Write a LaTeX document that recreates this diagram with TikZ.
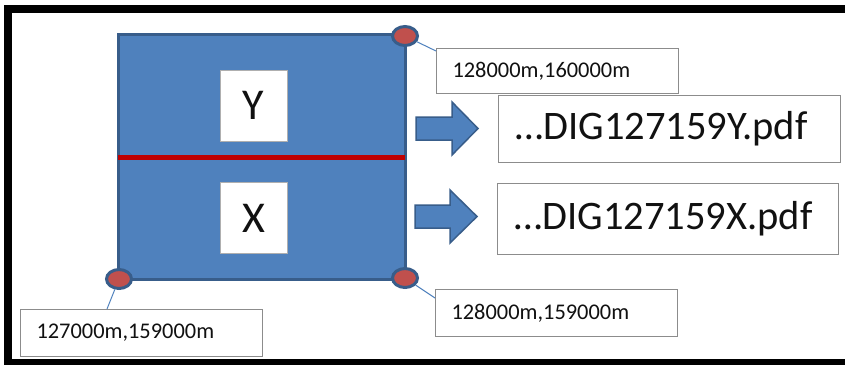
\documentclass[tikz,border=0pt]{standalone}
\usepackage{fontspec}
\setmainfont{Carlito}
\usetikzlibrary{calc,shapes.geometric}
\definecolor{tilefill}{HTML}{4F81BD}
\definecolor{tileedge}{HTML}{385D8A}
\definecolor{splitred}{HTML}{C00000}
\definecolor{cornerred}{HTML}{C0504D}
\definecolor{boxgray}{HTML}{8C8C8C}
\definecolor{ink}{HTML}{111111}
\tikzset{
  frame/.style={draw=black, line width=8},
  tile/.style={draw=tileedge, fill=tilefill, line width=3},
  corner/.style={ellipse, draw=tileedge, fill=cornerred, line width=3,
    minimum width=25, minimum height=19, inner sep=0},
  letterbox/.style={draw=boxgray!70, fill=white, line width=0.8,
    minimum width=67, minimum height=71, inner sep=0, text=ink,
    font=\fontsize{44}{48}\selectfont},
  tag/.style={draw=boxgray, fill=white, line width=1, anchor=north west,
    inner xsep=16, inner ysep=0, align=left, text=ink,
    font=\fontsize{22.4}{26}\selectfont},
  filebox/.style={draw=boxgray, fill=white, line width=1, anchor=north west,
    inner xsep=17, inner ysep=0, align=left, text=ink,
    font=\fontsize{40.5}{45}\selectfont},
  leader/.style={draw=tilefill, line width=1},
  blockarrow/.style={draw=tileedge, fill=tilefill, line width=1.5, line join=miter}
}
\begin{document}
\begin{tikzpicture}[x=1pt, y=-1pt]
  \useasboundingbox (0,0) rectangle (845,364);
  \clip (0,0) rectangle (845,364);
  \fill[white] (0,0) rectangle (845,364);
  % outer frame
  \draw[frame] (8,9) rectangle (870,363);

  % tile split in two halves
  \draw[tile] (118,34) rectangle (405,279);
  \draw[splitred, line width=5] (118,157) -- (405,157);
  \node[letterbox] (ybox) at (253.5,105.5) {Y};
  \node[letterbox] (xbox) at (253.5,218) {X};

  % coordinate labels
  \node[tag, text width=210, minimum height=45] (tlab) at (436,48) {128000m,160000m};
  \node[tag, text width=210, minimum height=47] (bllab) at (20,309) {127000m,159000m};
  \node[tag, text width=210, minimum height=47] (brlab) at (435,289) {128000m,159000m};

  % corner markers
  \node[corner] (tr) at (405,36) {};
  \node[corner] (bl) at (119,279) {};
  \node[corner] (br) at (405,278) {};

  % leader lines from corners to their labels
  \draw[leader] (tr) -- ($(tlab.north west)+(0,3)$);
  \draw[leader] (bl) -- ($(bllab.north west)+(87,0)$);
  \draw[leader] (br) -- ($(brlab.north west)+(0,9)$);

  % output files
  \node[filebox, text width=308, minimum height=67] (ypdf) at (498,95) {…DIG127159Y.pdf};
  \node[filebox, text width=307, minimum height=71] (xpdf) at (497,183) {…DIG127159X.pdf};

  % block arrows
  \draw[blockarrow] (416,117) -- (452,117) -- (452,102) -- (478,128.5)
    -- (452,155) -- (452,140) -- (416,140) -- cycle;
  \draw[blockarrow] (415,205) -- (450,205) -- (450,190) -- (477,216.5)
    -- (450,243) -- (450,228) -- (415,228) -- cycle;
\end{tikzpicture}
\end{document}
